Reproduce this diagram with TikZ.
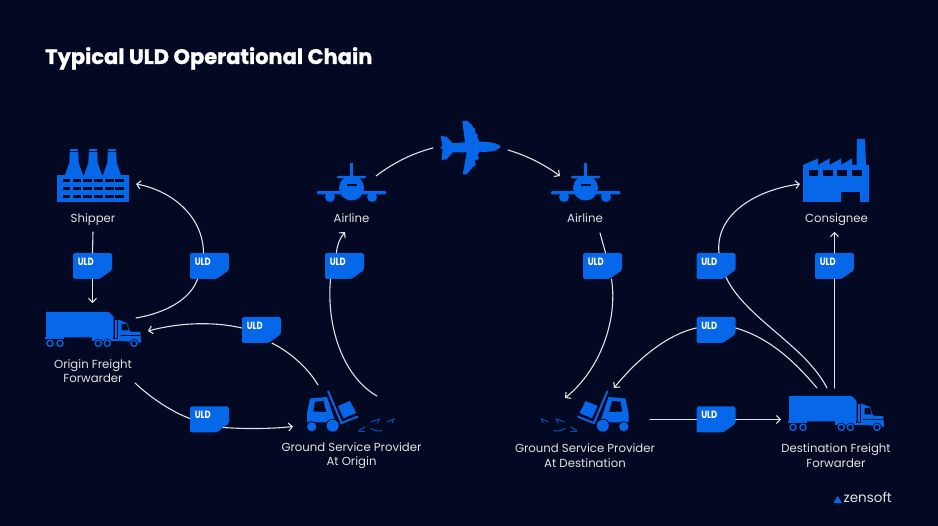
\documentclass[tikz,border=0pt]{standalone}
\usepackage{fontspec}
\setmainfont{Poppins}
\newfontfamily\titlefont{Poppins}[BoldFeatures={FakeBold=1.2}]
\usetikzlibrary{arrows.meta}
\definecolor{bgc}{HTML}{030823}
\definecolor{icon}{HTML}{0667E8}
\definecolor{dimblue}{HTML}{0B52B8}
\definecolor{txt}{HTML}{E2E2E2}
\tikzset{
  x=1pt,y=-1pt,
  lab/.style={text=txt,font=\fontsize{11.7}{14.6}\selectfont,align=center,inner sep=0pt},
  tag/.style={inner sep=0pt,minimum width=39pt,minimum height=26pt,text=white,
    font=\bfseries\fontsize{10.5}{10.5}\selectfont,
    path picture={\fill[icon,rounded corners=1.6pt]
      (path picture bounding box.south west) --
      (path picture bounding box.north west) --
      (path picture bounding box.north east) --
      ([yshift=9pt]path picture bounding box.south east) --
      ([xshift=-12.5pt]path picture bounding box.south east) -- cycle;}},
  link/.style={draw=txt,line width=1.1pt,line cap=round},
  arrowlink/.style={link,-{Straight Barb[length=3.8pt,width=8pt,line width=1.1pt]}},
  pics/factoryA/.style={code={
    \fill[icon] (57,175) rectangle (129,202);
    \foreach \c in {74,93,112}{
      \fill[icon] (\c-4.2,152) -- (\c+4.2,152) -- (\c+4.7,163) -- (\c+9,175) -- (\c-9,175) -- (\c-4.7,163) -- cycle;
      \fill[icon] (\c-4.2,149) rectangle (\c+4.2,151);
    }
    \foreach \yy in {179.5,187.5,195.5}{
      \foreach \xa/\xb in {62.5/70,72.5/81,83/92,94/103,105/113.5,115/124}{
        \fill[bgc] (\xa,\yy) rectangle (\xb,\yy+3);
      }
    }
  }},
  pics/factoryB/.style={code={
    \fill[icon] (803,202) -- (803,165) -- (818,158.5) -- (818,165) -- (829.5,158.5) -- (829.5,165)
      -- (841,158.5) -- (841,165) -- (852,158.5) -- (852,165) -- (856.5,165) -- (857,139) -- (865,139)
      -- (866,165) -- (869,165) -- (869,202) -- (860,202) -- (860,192) -- (841,192) -- (841,202) -- cycle;
    \foreach \xa in {808.5,823,837,852}{\fill[bgc] (\xa,170.5) rectangle (\xa+9.5,176.5);}
  }},
  pics/truck/.style={code={
    \fill[icon,rounded corners=0.6pt] (46,312) -- (108.5,312) -- (113.5,316.5) -- (113.5,337.3) -- (46,337.3) -- cycle;
    \fill[icon] (44.7,337) rectangle (64,339.5);
    \fill[icon] (91.7,337) rectangle (113,339.5);
    \fill[icon] (115,320) rectangle (117,338);
    \fill[icon] (118,319.5) -- (127,323) -- (130,331.7) -- (140.3,332) -- (141,342.7) -- (118,340.5) -- cycle;
    \fill[icon] (91.7,339) rectangle (125,341.5);
    \fill[bgc] (121.5,324) -- (126.8,324) -- (128.6,330.4) -- (121.5,330.4) -- cycle;
    \draw[bgc,line width=0.4pt] (120,334.8) -- (140,334.8);
    \foreach \c in {50,60,98.3,107.3,134}{
      \fill[bgc] (\c,343.3) circle[radius=4.6];
      \draw[icon,line width=1.3pt,fill=bgc] (\c,343.3) circle[radius=3.1];
    }
  }},
  pics/fork/.style={code={
    \draw[icon,line width=1.9pt] (328,391) -- (341.5,423) -- (358,416.5);
    \fill[icon] (338,406) -- (350,401) -- (356,413) -- (343.5,418.3) -- cycle;
    \fill[icon] (307,413) -- (310,398.5) -- (327,397) -- (333,415) -- (336,422.5) -- (307,422.5) -- cycle;
    \fill[bgc] (313.3,411.5) -- (315,401.7) -- (323.5,401) -- (326.3,412) -- cycle;
    \fill[bgc] (311.7,426.7) circle[radius=5.6];
    \fill[bgc] (332.7,425.7) circle[radius=7];
    \fill[icon] (311.7,426.7) circle[radius=4.6];
    \fill[icon] (332.7,425.7) circle[radius=6];
    \draw[dimblue,line width=1pt] (358.5,431) -- (365,426.7);
    \draw[dimblue,line width=1pt] (359,431.3) -- (365,431.5);
    \draw[dimblue,line width=1pt] (371,422) -- (379.3,419) -- (377.5,423.3);
    \draw[dimblue,line width=1pt] (370,428.3) -- (376.7,431) -- (382,430.7);
    \draw[dimblue,line width=1pt] (387.3,421.7) -- (394,419) -- (392.3,422.7);
  }},
  pics/frontplane/.style={code={
    \fill[icon] (350,163) rectangle (353,178);
    \fill[icon,rounded corners=1pt] (337,176) rectangle (366,178.5);
    \fill[icon] (351.5,188) circle[radius=12.5];
    \fill[icon,rounded corners=1pt] (317,191) rectangle (386,194.5);
    \fill[icon] (330,197) circle[radius=5];
    \fill[icon] (372,197) circle[radius=5];
    \fill[bgc] (346.5,184) rectangle (356.5,186);
  }},
  pics/topplane/.style={code={
    \fill[icon] (501,146.7) .. controls (497,143) and (490,141.7) .. (479.3,141.7)
      -- (472,125) -- (467.3,121) -- (462.3,121) -- (465,142.3)
      -- (452.7,143.3) -- (446.7,136.7) -- (440.7,136) -- (442.7,147.7)
      -- (441.7,160) -- (446.7,159.3) -- (452.7,152.3) -- (466.7,152.3) -- (462.7,174.3) -- (466.7,174.3)
      -- (472,168) -- (479.3,151.7) .. controls (490,152.3) and (497,151) .. (501,146.7) -- cycle;
    \fill[icon] (473,130) circle[radius=2.4];
    \fill[icon] (475.7,135.7) circle[radius=2.2];
    \fill[icon] (473.3,164.3) circle[radius=2.4];
    \fill[icon] (476.7,157.7) circle[radius=2.2];
    \fill[icon] (442,147.7) circle[radius=1.6];
  }},
}
\begin{document}
\begin{tikzpicture}
\useasboundingbox (0,0) rectangle (938,526);
\fill[bgc] (0,0) rectangle (938,526);

% title and brand
\node[anchor=base west,inner sep=0pt,text=white,font=\titlefont\bfseries\fontsize{21}{24}\selectfont] (title) at (45,64) {Typical ULD Operational Chain};
\fill[icon] (833.5,503) -- (842,503) -- (837.7,496) -- cycle;
\node[anchor=base west,inner sep=0pt,text=txt,font=\fontsize{13.5}{15}\selectfont] (brand) at (843.5,503) {zensoft};

% icons
\pic {factoryA};
\pic {truck};
\pic {fork};
\pic {frontplane};
\pic at (234,0) {frontplane};
\pic {topplane};
\pic {factoryB};
\pic at (743,84) {truck};
\pic[xscale=-1] at (935.5,0) {fork};

% labels
\node[lab] (shipper) at (93,219.5) {Shipper};
\node[lab] (origff) at (93,371) {Origin Freight\\Forwarder};
\node[lab] (gspo) at (351.5,455.5) {Ground Service Provider\\At Origin};
\node[lab] (air1) at (351.5,218.5) {Airline};
\node[lab] (air2) at (585,218.5) {Airline};
\node[lab] (gspd) at (585,455.5) {Ground Service Provider\\At Destination};
\node[lab] (consignee) at (836.5,219.5) {Consignee};
\node[lab] (destff) at (836,455.5) {Destination Freight\\Forwarder};

% tags
\newcommand{\uldtext}{\hspace*{4.8pt}\raisebox{0.8pt}[0pt][0pt]{\scalebox{0.8}[1]{ULD}}\hfill\null}
\foreach \nm/\cx/\cy in {t1/92.5/266,t2/209.5/266,t3/261.5/330,t4/209.5/419.5,t5/344.5/266,
    t6/602.5/266,t7/716/266,t8/716/330,t9/716/419.5,t10/834.5/266}{
  \node[tag,text width=39pt] (\nm) at (\cx,\cy) {\uldtext};
}

% free ends of the connectors
\coordinate (a1) at (92.5,303);
\coordinate (b1) at (136,318);
\coordinate (a2) at (136,184);
\coordinate (b3) at (318,385);
\coordinate (a3) at (148,331);
\coordinate (b4) at (135,383);
\coordinate (a4) at (293,426.5);
\coordinate (b5) at (377,396);
\coordinate (a5) at (345,232);
\coordinate (b6) at (376,176);
\coordinate (e6) at (433,148);
\coordinate (b7) at (508,150);
\coordinate (a7) at (560,176);
\coordinate (b8) at (600,233);
\coordinate (a8) at (565,398);
\coordinate (b9) at (817,388);
\coordinate (a9) at (614,388);
\coordinate (b10) at (827,388);
\coordinate (a10) at (800,184);
\coordinate (b11) at (834.5,388);
\coordinate (a11) at (834.5,232);
\coordinate (b12) at (650,419.5);
\coordinate (a12) at (781,419.5);

% connectors
\draw[link] (shipper.south |- 0,232) -- (t1.north);
\draw[arrowlink] (t1.south) -- (a1);
\draw[link] (b1) .. controls (165,313) and (190,300) .. ([xshift=-12pt]t2.south);
\draw[arrowlink] ([xshift=-6pt]t2.north) .. controls (203,215) and (170,190) .. (a2);
\draw[link] (b3) .. controls (308,368) and (290,352) .. ([xshift=10.5pt]t3.south);
\draw[arrowlink] ([yshift=2pt]t3.west) .. controls (212,321) and (178,323) .. (a3);
\draw[link] (b4) .. controls (150,397) and (170,411) .. ([yshift=1pt]t4.west);
\draw[arrowlink] ([xshift=-6pt,yshift=-8pt]t4.east) .. controls (245,429) and (270,429) .. (a4);
\draw[link] (b5) .. controls (345,378) and (326,330) .. ([xshift=-14pt]t5.south);
\draw[arrowlink] ([xshift=-8pt]t5.north) .. controls (337,245) and (340,238) .. (a5);
\draw[link] (b6) .. controls (393,163) and (413,153) .. (e6);
\draw[arrowlink] (b7) .. controls (528,156) and (545,165) .. (a7);
\draw[link] (b8) -- ([xshift=3pt]t6.north);
\draw[arrowlink] ([xshift=9pt]t6.south) .. controls (618,320) and (600,370) .. (a8);
\draw[link] (b9) .. controls (795,362) and (770,338) .. ([yshift=2pt]t8.east);
\draw[arrowlink] ([yshift=2pt]t8.west) .. controls (665,335) and (635,362) .. (a9);
\draw[link] (b10) .. controls (805,345) and (745,318) .. ([xshift=10pt,yshift=2pt]t7.south);
\draw[arrowlink] ([xshift=3pt]t7.north) .. controls (715,215) and (755,190) .. (a10);
\draw[link] (b11) -- (t10.south -| b11);
\draw[arrowlink] (t10.north -| a11) -- (a11);
\draw[link] (b12) -- (t9.west);
\draw[arrowlink] (t9.east) -- (a12);
\end{tikzpicture}
\end{document}
